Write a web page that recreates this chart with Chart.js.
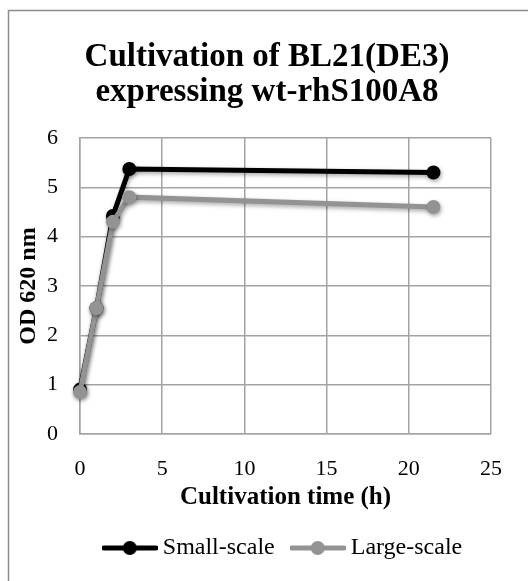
<!DOCTYPE html>
<html><head><meta charset="utf-8">
<script src="https://cdn.jsdelivr.net/npm/chart.js@4"></script>
<style>html,body{margin:0;padding:0;background:#fff}#wrap{width:528px;height:581px;position:relative}</style>
</head><body><div id="wrap"><canvas id="c" width="528" height="581"></canvas></div>
<script>
const titleLines = ['Cultivation of BL21(DE3)', 'expressing wt-rhS100A8'];
const xAxisTitle = 'Cultivation time (h)';
const yAxisTitle = 'OD 620 nm';
const seriesNames = ['Small-scale', 'Large-scale'];
const smallTime = [0, 1, 2, 3, 21.5];
const smallOD = [0.9, 2.55, 4.42, 5.37, 5.3];
const largeTime = [0, 1, 2, 3, 21.5];
const largeOD = [0.85, 2.55, 4.3, 4.8, 4.6];
const xTicks = [0, 5, 10, 15, 20, 25];
const yTicks = [0, 1, 2, 3, 4, 5, 6];

const FONT = "'Liberation Serif', 'DejaVu Serif', serif";
const BLACK = '#000000';
const GREY = '#939393';
const GRID = '#a3a3a3';

function legendIcon(color, lw, r) {
  const cv = document.createElement('canvas');
  cv.width = 56; cv.height = 18;
  const g = cv.getContext('2d');
  g.strokeStyle = color; g.lineWidth = lw; g.lineCap = 'round';
  g.beginPath(); g.moveTo(2, 9); g.lineTo(54, 9); g.stroke();
  g.fillStyle = color; g.beginPath(); g.arc(28, 9, r, 0, Math.PI * 2); g.fill();
  return cv;
}
const icons = [legendIcon(BLACK, 5, 7), legendIcon(GREY, 5, 7)];

const toPts = (xs, ys) => xs.map((x, i) => ({x: x, y: ys[i]}));

const framePlugin = {
  id: 'frame',
  beforeDraw(chart) {
    const ctx = chart.ctx;
    ctx.save();
    ctx.fillStyle = '#fff';
    ctx.fillRect(0, 0, chart.width, chart.height);
    ctx.strokeStyle = '#8c8c8c';
    ctx.lineWidth = 1.5;
    ctx.beginPath();
    ctx.moveTo(8.5, chart.height + 5);
    ctx.lineTo(8.5, 10.5);
    ctx.lineTo(chart.width + 5, 10.5);
    ctx.stroke();
    ctx.restore();
  }
};
const shadowPlugin = {
  id: 'shadow',
  beforeDatasetDraw(chart) {
    const ctx = chart.ctx;
    ctx.save();
    ctx.shadowColor = 'rgba(0,0,0,0.35)';
    ctx.shadowBlur = 4;
    ctx.shadowOffsetX = 1;
    ctx.shadowOffsetY = 2;
  },
  afterDatasetDraw(chart) { chart.ctx.restore(); }
};

new Chart(document.getElementById('c'), {
  type: 'scatter',
  data: {
    datasets: [
      { label: seriesNames[0], data: toPts(smallTime, smallOD), showLine: true,
        borderColor: BLACK, backgroundColor: BLACK, borderWidth: 5, clip: false,
        pointRadius: 7, pointHoverRadius: 7, pointBorderWidth: 0, order: 2, tension: 0 },
      { label: seriesNames[1], data: toPts(largeTime, largeOD), showLine: true,
        borderColor: GREY, backgroundColor: GREY, borderWidth: 5, clip: false,
        pointRadius: 7, pointHoverRadius: 7, pointBorderWidth: 0, order: 1, tension: 0 }
    ]
  },
  options: {
    responsive: false,
    animation: false,
    devicePixelRatio: 1,
    layout: { padding: { left: 43, right: 37, top: 0, bottom: 11 } },
    plugins: {
      tooltip: { enabled: false },
      title: {
        display: true, text: titleLines, color: '#000',
        font: { family: FONT, size: 33, weight: 'bold', lineHeight: 1.06 },
        padding: { top: 39.5, bottom: 28.5 }
      },
      legend: {
        position: 'bottom', fullSize: false,
        labels: {
          color: '#000', font: { family: FONT, size: 24 }, padding: 22,
          usePointStyle: true, pointStyleWidth: 42, boxHeight: 18,
          sort: (a, b) => a.datasetIndex - b.datasetIndex,
          generateLabels: (chart) => chart.data.datasets.map((ds, i) => ({
            text: ds.label, datasetIndex: i, pointStyle: icons[i],
            fillStyle: ds.borderColor, strokeStyle: ds.borderColor, lineWidth: 0, hidden: false
          }))
        }
      }
    },
    scales: {
      x: {
        type: 'linear', min: xTicks[0], max: xTicks[xTicks.length - 1],
        ticks: { stepSize: xTicks[1] - xTicks[0], color: '#000', padding: 22,
                 font: { family: FONT, size: 22 } },
        grid: { color: GRID, lineWidth: 1.5, drawTicks: false },
        border: { color: GRID, width: 1.5 },
        title: { display: true, text: xAxisTitle, color: '#000',
                 font: { family: FONT, size: 25, weight: 'bold' }, padding: { top: 0, bottom: 1 } },
        afterFit: (s) => { s.height = 80; }
      },
      y: {
        type: 'linear', min: yTicks[0], max: yTicks[yTicks.length - 1],
        ticks: { stepSize: yTicks[1] - yTicks[0], color: '#000', padding: 22,
                 font: { family: FONT, size: 22 } },
        grid: { color: GRID, lineWidth: 1.5, drawTicks: false },
        border: { color: GRID, width: 1.5 },
        title: { display: true, text: yAxisTitle, color: '#000',
                 font: { family: FONT, size: 24, weight: 'bold' }, padding: { top: -28.4, bottom: 0 } },
        afterFit: (s) => { s.width = 37; }
      }
    }
  },
  plugins: [framePlugin, shadowPlugin]
});
</script></body></html>
